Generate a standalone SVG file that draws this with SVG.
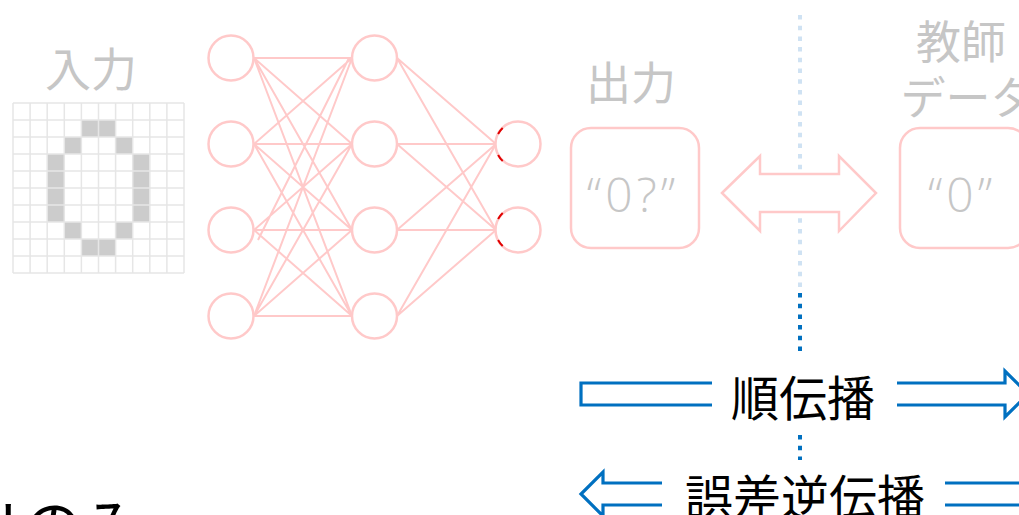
<svg xmlns="http://www.w3.org/2000/svg" width="1019" height="515" viewBox="0 0 1019 515">
<style>
.lbl{font-family:"Noto Sans CJK JP","Noto Sans",sans-serif;fill:#c6c6c6;font-size:45px;text-anchor:middle}
.big{font-family:"Noto Sans CJK JP","Noto Sans",sans-serif;fill:#000;font-size:48px;text-anchor:middle}
.q{font-family:"Open Sans","Noto Sans",sans-serif;font-weight:300;fill:#c6c6c6;font-size:48px;text-anchor:middle}
.neuron{fill:#fff;stroke:#ffc9c9;stroke-width:2.5}
.edge{stroke:#ffc9c9;stroke-width:2;fill:none}
.cell{fill:#cccccc}
.grid{stroke:#e6e6e6;stroke-width:1.5;fill:none}
.blue{stroke:#0070c0;stroke-width:3.2;fill:none}
.red{stroke:#e00000;stroke-width:2;fill:none}
</style>
<rect width="1019" height="515" fill="#fff"/>

<g id="input-label"><text class="lbl" x="91" y="86" style="font-size:46px">入力</text></g>

<g id="input-grid">
<rect class="cell" x="81.4" y="120" width="34.2" height="17"/>
<rect class="cell" x="64.3" y="137" width="17.1" height="17"/>
<rect class="cell" x="115.6" y="137" width="17.1" height="17"/>
<rect class="cell" x="47.2" y="154" width="17.1" height="68"/>
<rect class="cell" x="132.7" y="154" width="17.1" height="68"/>
<rect class="cell" x="64.3" y="222" width="17.1" height="17"/>
<rect class="cell" x="115.6" y="222" width="17.1" height="17"/>
<rect class="cell" x="81.4" y="239" width="34.2" height="17"/>
<path class="grid" d="M13,103V273M30.1,103V273M47.2,103V273M64.3,103V273M81.4,103V273M98.5,103V273M115.6,103V273M132.7,103V273M149.8,103V273M166.9,103V273M184,103V273M13,103H184M13,120H184M13,137H184M13,154H184M13,171H184M13,188H184M13,205H184M13,222H184M13,239H184M13,256H184M13,273H184"/>
</g>

<g id="connectors">
<path class="edge" d="M254,58L352,58M254,58L352,144M254,58L352,230M254,58L352,316
M254,144L352,58M254,144L352,144M254,144L352,230M254,144L352,316
M258,240L349,58M254,230L352,144M254,230L352,230M254,230L352,316
M254,316L352,58M254,316L352,144M254,316L352,230M254,316L352,316
M397,58L496,144M397,58L496,230M397,144L496,144M397,144L496,230
M397,230L496,144M397,230L496,230M397,316L496,144M397,316L496,230"/>
<path d="M800,15V290" stroke="#cfe2f3" stroke-width="4" stroke-dasharray="4.5 6.2" fill="none"/>
<path d="M800,293V352" stroke="#0070c0" stroke-width="4" stroke-dasharray="4.5 6.2" fill="none"/>
<path d="M800,435V460" stroke="#0070c0" stroke-width="4" stroke-dasharray="4.5 6.2" fill="none"/>
<polygon points="722,193 760,156 760,174 839,174 839,156 876,193 839,231 839,212 760,212 760,231" fill="#fff" stroke="#ffc9c9" stroke-width="2.5"/>
<path class="blue" d="M712,383H581V405H712"/>
<path class="blue" d="M897,383H1005V371L1028,394L1005,417V405H897"/>
<path class="blue" d="M662,483H603V472L581,494L603,516V505H662"/>
<path class="blue" d="M945,483H1030M945,505H1030"/>
</g>

<g id="layer1">
<circle class="neuron" cx="231" cy="58" r="22.5"/>
<circle class="neuron" cx="231" cy="144" r="22.5"/>
<circle class="neuron" cx="231" cy="230" r="22.5"/>
<circle class="neuron" cx="231" cy="316" r="22.5"/>
</g>
<g id="layer2">
<circle class="neuron" cx="374.5" cy="58" r="22.5"/>
<circle class="neuron" cx="374.5" cy="144" r="22.5"/>
<circle class="neuron" cx="374.5" cy="230" r="22.5"/>
<circle class="neuron" cx="374.5" cy="316" r="22.5"/>
</g>
<g id="layer3">
<circle class="neuron" cx="518" cy="144" r="22.5"/>
<circle class="neuron" cx="518" cy="230" r="22.5"/>
<path class="red" d="M502.7,128A22.5,22.5 0 0 0 498.1,134M498.1,155A22.5,22.5 0 0 0 502.7,161M502.7,213A22.5,22.5 0 0 0 498.1,219M498.1,240A22.5,22.5 0 0 0 502.7,246"/>
</g>

<g id="output">
<text class="lbl" x="631" y="100">出力</text>
<rect x="571" y="128" width="128" height="120" rx="20" fill="#fff" stroke="#ffc9c9" stroke-width="2.5"/>
<text class="q" x="633" y="212" letter-spacing="4">“0?”</text>
</g>

<g id="teacher">
<text class="lbl" x="961" y="59">教師</text>
<text class="lbl" x="968" y="115">データ</text>
<rect x="900" y="128" width="128" height="120" rx="20" fill="#fff" stroke="#ffc9c9" stroke-width="2.5"/>
<text class="q" x="962" y="212" letter-spacing="4">“0”</text>
</g>

<g id="forward"><text class="big" x="803" y="416">順伝播</text></g>
<g id="backprop"><text class="big" x="805" y="515">誤差逆伝播</text></g>
<g id="note"><text class="big" x="-26 23 83 128" y="549" style="text-anchor:start;font-size:60px">ルのみ:</text></g>
</svg>
